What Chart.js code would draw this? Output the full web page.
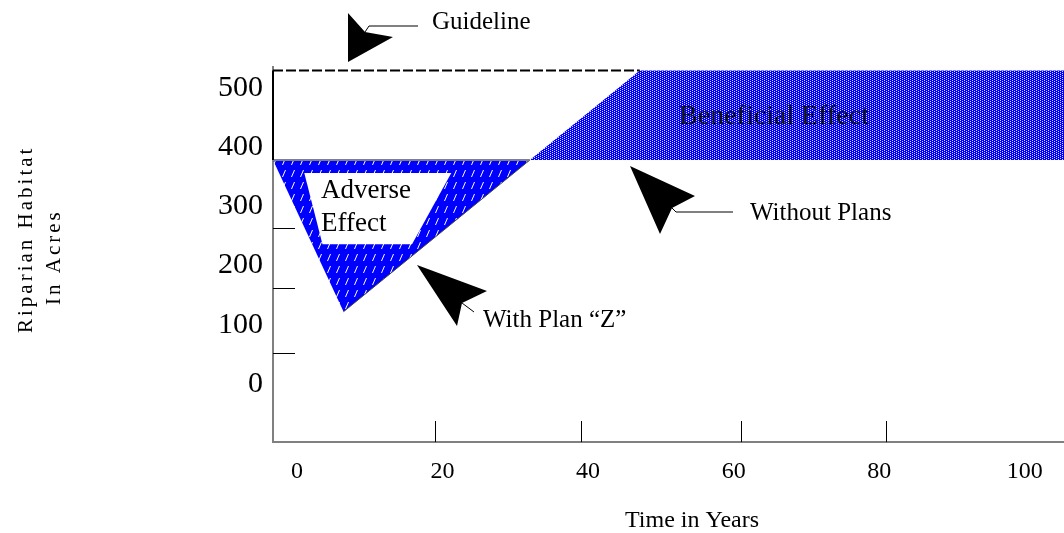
<!DOCTYPE html>
<html>
<head>
<meta charset="utf-8">
<script src="https://cdn.jsdelivr.net/npm/chart.js@4.4.1/dist/chart.umd.min.js"></script>
<style>
  html, body { margin: 0; padding: 0; background: #fff; }
</style>
</head>
<body>
<canvas id="myChart" width="1064" height="533"></canvas>
<script>
// values (years / acres)
const years = [-3.3, 6.4, 32, 47.1, 105.4];
const withoutPlans = [378, 378, 378, 378, 378];
const withPlanZ = [378, 122, 378, 529, 529];
const guideYears = [-3.3, -3.3, 47.1];
const guideline = [378, 529, 529];
// white label box inside the adverse area
const boxYears = [1.0, 21.2, 15.8, 3.5, 1.0];
const boxAcres = [356, 356, 236, 236, 356];

const xTickLabels = [0, 20, 40, 60, 80, 100];
const yTickLabels = [0, 100, 200, 300, 400, 500];
const xTickMarks = [19, 39, 61, 81];
const yTickMarks = [52, 162, 263];

const ctx = document.getElementById('myChart').getContext('2d');

function makePattern(w, h, draw) {
    const c = document.createElement('canvas');
    c.width = w; c.height = h;
    draw(c.getContext('2d'));
    return ctx.createPattern(c, 'repeat');
}
// blue with short white slashes
const adverse = makePattern(9, 12, g => {
    g.fillStyle = '#0000ff'; g.fillRect(0, 0, 9, 12);
    g.strokeStyle = '#ffffff'; g.lineWidth = 1;
    g.beginPath(); g.moveTo(6.5, 2); g.lineTo(3.5, 9); g.stroke();
});
// fine blue dither, staggered light dots
const beneficial = makePattern(4, 2, g => {
    g.fillStyle = '#0000ff'; g.fillRect(0, 0, 4, 2);
    g.fillStyle = '#d8d8ff';
    g.fillRect(0, 0, 1, 1);
    g.fillRect(2, 1, 1, 1);
});

const pts = (xs, ys) => xs.map((x, i) => ({ x: x, y: ys[i] }));
const serif = 'Liberation Serif, Times New Roman, serif';

const notes = {
    id: 'notes',
    afterDraw(chart) {
        const g = chart.ctx;
        const xs = chart.scales.x, ys = chart.scales.y, ca = chart.chartArea;
        g.save();
        // short tick marks inside the axes
        g.strokeStyle = '#000'; g.lineWidth = 1;
        xTickMarks.forEach(v => {
            const px = Math.round(xs.getPixelForValue(v)) + 0.5;
            g.beginPath(); g.moveTo(px, ca.bottom); g.lineTo(px, ca.bottom - 21); g.stroke();
        });
        yTickMarks.forEach(v => {
            const py = Math.round(ys.getPixelForValue(v)) + 0.5;
            g.beginPath(); g.moveTo(ca.left, py); g.lineTo(ca.left + 22, py); g.stroke();
        });

        // call-out arrows
        const arrows = [
            { shape: [[348, 13], [365, 32], [393, 37], [348, 62]], lead: [[365, 32], [369, 26], [418, 26]] },
            { shape: [[630, 166], [695, 196], [672, 208], [660, 234]], lead: [[672, 208], [676, 212], [733, 212]] },
            { shape: [[417, 265], [487, 291], [462, 303], [457, 326]], lead: [[462, 303], [474, 312]] }
        ];
        arrows.forEach(a => {
            g.fillStyle = '#000';
            g.beginPath();
            a.shape.forEach((p, i) => i ? g.lineTo(p[0], p[1]) : g.moveTo(p[0], p[1]));
            g.closePath(); g.fill();
            g.beginPath();
            a.lead.forEach((p, i) => i ? g.lineTo(p[0], p[1]) : g.moveTo(p[0], p[1]));
            g.stroke();
        });

        g.fillStyle = '#000';
        g.textBaseline = 'middle';
        g.textAlign = 'left';
        g.font = '25px ' + serif;
        g.fillText('Guideline', 432, 22);
        g.fillText('Without Plans', 750, 213);
        g.fillText('With Plan \u201cZ\u201d', 483, 320);
        g.font = '27px ' + serif;
        g.fillText('Adverse', 321, 191);
        g.fillText('Effect', 321, 224);
        g.fillStyle = '#111';
        g.textAlign = 'center';
        g.font = '28px ' + serif;
        g.fillText('Beneficial Effect', 774, 117);

        // axis titles
        g.fillStyle = '#000';
        g.font = '24px ' + serif;
        g.fillText('Time in Years', 692, 521);
        g.textAlign = 'left';
        g.textBaseline = 'alphabetic';
        g.font = '21px ' + serif;
        g.letterSpacing = '3px';
        [['Riparian Habitat', 32, 333], ['In Acres', 60, 305]].forEach(t => {
            g.save();
            g.translate(t[1], t[2]);
            g.rotate(-Math.PI / 2);
            g.fillText(t[0], 0, 0);
            g.restore();
        });
        g.restore();
    }
};

var myChart = new Chart(ctx, {
    type: 'line',
    data: {
        datasets: [{
            label: 'Guideline',
            data: pts(guideYears, guideline),
            borderColor: '#000',
            borderWidth: 2,
            segment: { borderDash: c => c.p0DataIndex === 1 ? [10, 3] : undefined },
            pointRadius: 0,
            fill: false,
            clip: false
        }, {
            label: 'Adverse Effect box',
            data: pts(boxYears, boxAcres),
            borderColor: 'transparent',
            backgroundColor: '#ffffff',
            pointRadius: 0,
            fill: 'shape'
        }, {
            label: 'Without Plans',
            data: pts(years, withoutPlans),
            borderColor: '#808080',
            borderWidth: 2,
            segment: { borderColor: c => c.p0.parsed.x < 30 ? '#808080' : 'transparent' },
            pointRadius: 0,
            fill: false
        }, {
            // recovery slope of plan Z, drawn as a thin edge
            label: 'Plan Z recovery',
            data: pts(years.slice(1, 3), withPlanZ.slice(1, 3)),
            borderColor: '#404040',
            borderWidth: 1,
            pointRadius: 0,
            fill: false
        }, {
            label: 'With Plan "Z"',
            data: pts(years, withPlanZ),
            borderColor: 'transparent',
            borderWidth: 0,
            pointRadius: 0,
            fill: { target: 2, above: beneficial, below: adverse }
        }]
    },
    options: {
        responsive: false,
        animation: false,
        devicePixelRatio: 1,
        layout: { padding: { top: 67, left: 0, right: 0, bottom: 0 } },
        plugins: {
            legend: { display: false },
            tooltip: { enabled: false }
        },
        scales: {
            x: {
                type: 'linear',
                min: -3.3,
                max: 105.4,
                afterFit: s => { s.height = 91; },
                afterBuildTicks: s => { s.ticks = xTickLabels.map(v => ({ value: v })); },
                grid: { display: false },
                border: { color: '#808080', width: 2 },
                ticks: {
                    color: '#000',
                    font: { family: serif, size: 24 },
                    padding: 7,
                    maxRotation: 0,
                    autoSkip: false
                }
            },
            y: {
                min: -98,
                max: 535,
                afterFit: s => { s.width = 273; },
                afterBuildTicks: s => { s.ticks = yTickLabels.map(v => ({ value: v })); },
                grid: { display: false },
                border: { color: '#808080', width: 2 },
                ticks: {
                    color: '#000',
                    font: { family: serif, size: 30 },
                    padding: 2
                }
            }
        }
    },
    plugins: [notes]
});
</script>
</body>
</html>
